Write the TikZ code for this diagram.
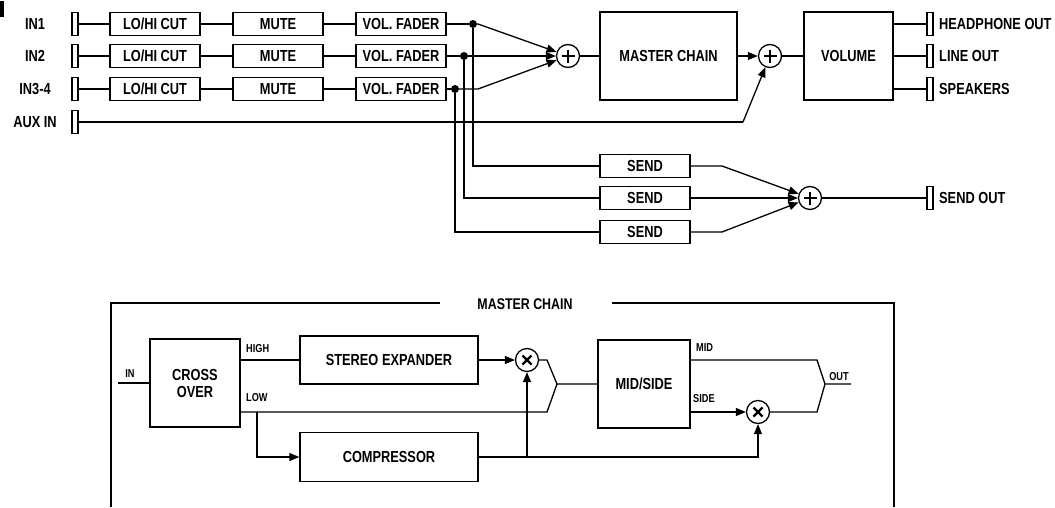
\documentclass[tikz,border=0pt]{standalone}
\usepackage{fontspec}
\setmainfont{Liberation Sans}[FakeStretch=0.8]
\usetikzlibrary{arrows.meta}

\tikzset{
  wire/.style={line width=1.3pt},
  arr/.style={wire, -{Triangle[length=10pt,width=8pt]}},
  blk/.style={draw, line width=1.3pt, inner sep=0pt, align=center, font=\fontsize{16}{17}\selectfont\bfseries},
  chan/.style={blk, minimum width=90, minimum height=23},
  jack/.style={draw, line width=1.3pt, minimum width=6, minimum height=23, inner sep=0pt},
  tag/.style={inner sep=0pt, font=\fontsize{16}{17}\selectfont\bfseries},
  lbl/.style={inner sep=0pt, font=\fontsize{11.5}{12}\selectfont\bfseries},
  dot/.style={circle, fill, minimum size=8, inner sep=0pt},
  sum/.style={circle, draw, line width=1.3pt, minimum size=23, inner sep=0pt,
    path picture={\draw[line width=2.2pt]
      ([xshift=-6.5pt]path picture bounding box.center) -- ([xshift=6.5pt]path picture bounding box.center)
      ([yshift=-6.5pt]path picture bounding box.center) -- ([yshift=6.5pt]path picture bounding box.center);}},
  mul/.style={circle, draw, line width=1.3pt, minimum size=23, inner sep=0pt,
    path picture={\draw[line width=2.2pt]
      ([shift={(-4.5pt,-4.5pt)}]path picture bounding box.center) -- ([shift={(4.5pt,4.5pt)}]path picture bounding box.center)
      ([shift={(-4.5pt,4.5pt)}]path picture bounding box.center) -- ([shift={(4.5pt,-4.5pt)}]path picture bounding box.center);}},
}

\begin{document}
\begin{tikzpicture}[x=1pt,y=-1pt]

\useasboundingbox (0,0) rectangle (1055,507);
\fill (0,1) rectangle (4,17);

\node[tag] (l1) at (35,24) {IN1};
\node[tag] (l2) at (35,56) {IN2};
\node[tag] (l3) at (35,89) {IN3-4};
\node[tag] (l4) at (35,122) {AUX IN};

\node[jack] (j1) at (75,24) {};
\node[jack] (j2) at (75,56) {};
\node[jack] (j3) at (75,89) {};
\node[jack] (j4) at (75,122) {};

\node[chan] (c1) at (155,24) {LO/HI CUT};
\node[chan] (c2) at (155,56) {LO/HI CUT};
\node[chan] (c3) at (155,89) {LO/HI CUT};

\node[chan] (m1) at (278,24) {MUTE};
\node[chan] (m2) at (278,56) {MUTE};
\node[chan] (m3) at (278,89) {MUTE};

\node[chan] (f1) at (401,24) {VOL. FADER};
\node[chan] (f2) at (401,56) {VOL. FADER};
\node[chan] (f3) at (401,89) {VOL. FADER};

\node[dot] (d1) at (473,24) {};
\node[dot] (d2) at (464,56) {};
\node[dot] (d3) at (455,89) {};

\coordinate (k1) at (478,24);
\coordinate (k3) at (478,89);
\coordinate (ka) at (743,122);

\node[sum] (sa) at (568,56) {};
\node[blk, minimum width=137, minimum height=88] (mc) at (668.5,56) {MASTER CHAIN};
\node[sum] (sb) at (770,56) {};
\node[blk, minimum width=89, minimum height=88] (vol) at (848.5,56) {VOLUME};

\node[jack] (o1) at (930,24) {};
\node[jack] (o2) at (930,56) {};
\node[jack] (o3) at (930,89) {};
\node[jack] (o4) at (930,198) {};
\node[tag, anchor=west] (t1) at (939,24) {HEADPHONE OUT};
\node[tag, anchor=west] (t2) at (939,56) {LINE OUT};
\node[tag, anchor=west] (t3) at (939,89) {SPEAKERS};
\node[tag, anchor=west] (t4) at (939,198) {SEND OUT};

\node[chan] (s1) at (645,166) {SEND};
\node[chan] (s2) at (645,198) {SEND};
\node[chan] (s3) at (645,232) {SEND};
\coordinate (q1) at (722,166);
\coordinate (q3) at (722,232);
\node[sum] (sc) at (810,198) {};

\draw[wire] (j1) -- (c1) -- (m1) -- (f1) -- (d1);
\draw[wire] (j2) -- (c2) -- (m2) -- (f2) -- (d2);
\draw[wire] (j3) -- (c3) -- (m3) -- (f3) -- (d3);
\draw[arr] (d1) -- (k1) -- (sa);
\draw[arr] (d2) -- (sa);
\draw[arr] (d3) -- (k3) -- (sa);
\draw[wire] (sa) -- (mc);
\draw[arr] (mc) -- (sb);
\draw[wire] (j4) -- (ka);
\draw[arr] (ka) -- (sb);
\draw[wire] (sb) -- (vol);
\draw[wire] (vol.east |- o1) -- (o1);
\draw[wire] (vol.east |- o2) -- (o2);
\draw[wire] (vol.east |- o3) -- (o3);

\draw[wire] (d1) |- (s1);
\draw[wire] (d2) |- (s2);
\draw[wire] (d3) |- (s3);
\draw[arr] (s1) -- (q1) -- (sc);
\draw[arr] (s2) -- (sc);
\draw[arr] (s3) -- (q3) -- (sc);
\draw[wire] (sc) -- (o4);

\draw[wire] (111,507) -- (111,303) -- (440,303);
\draw[wire] (612,303) -- (894,303) -- (894,507);
\node[tag, font=\fontsize{15.5}{16}\selectfont\bfseries] (mct) at (525,304) {MASTER CHAIN};

\node[blk, minimum width=90, minimum height=88] (co) at (195,383) {CROSS\\OVER};
\node[blk, minimum width=178, minimum height=48] (se) at (389,360) {STEREO EXPANDER};
\node[blk, minimum width=178, minimum height=49] (cp) at (389,457) {COMPRESSOR};
\node[mul] (x1) at (527,360) {};
\node[blk, minimum width=92, minimum height=88] (ms) at (644,384) {MID/SIDE};
\node[mul] (x2) at (758,412) {};

\coordinate (cin) at (118,383);
\coordinate (lo) at (240,412);
\coordinate (lb) at (257,412);
\coordinate (lk) at (547,412);
\coordinate (hk) at (547,360);
\coordinate (jn) at (557,384);
\coordinate (mk) at (817,360);
\coordinate (sk) at (817,412);
\coordinate (jo) at (825,384);
\coordinate (cout) at (851,384);

\node[lbl] (tin) at (130,374) {IN};
\node[lbl, anchor=west] (thi) at (246,349) {HIGH};
\node[lbl, anchor=west] (tlo) at (246,398) {LOW};
\node[lbl, anchor=west] (tmid) at (696,348) {MID};
\node[lbl, anchor=west] (tside) at (693,399) {SIDE};
\node[lbl] (tout) at (839,377) {OUT};

\draw[wire] (cin) -- (co);
\draw[wire] (co.east |- se.west) -- (se.west);
\draw[arr] (se) -- (x1);
\draw[wire] (lo) -- (lk) -- (jn);
\draw[wire] (x1) -- (hk) -- (jn) -- (ms.west |- jn);
\draw[arr] (lb) |- (cp);
\draw[arr] (cp.east) -| (x2);
\draw[arr] (cp.east -| x1) -- (x1);
\draw[wire] (ms.east |- mk) -- (mk) -- (jo) -- (cout);
\draw[arr] (ms.east |- x2) -- (x2);
\draw[wire] (x2) -- (sk) -- (jo);

\end{tikzpicture}
\end{document}
